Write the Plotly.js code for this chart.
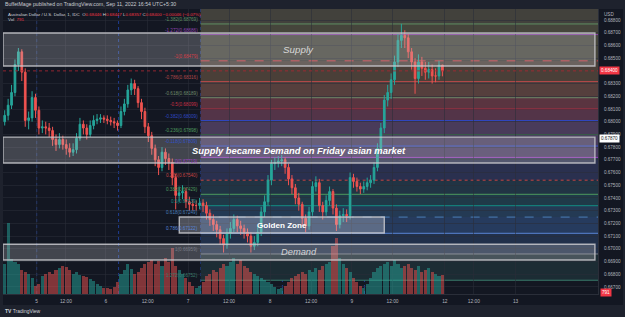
<!DOCTYPE html>
<html><head><meta charset="utf-8">
<script src="https://cdn.plot.ly/plotly-3.0.1.min.js"></script>
<style>html,body{margin:0;padding:0;background:#1e222d;overflow:hidden}#chart{width:625px;height:317px}</style>
</head><body><div id="chart"></div>
<script>
// ---------- DATA (hourly AUD/USD bars) ----------
const opens = [0.6800,0.6805,0.6813,0.6823,0.6845,0.6855,0.6839,0.6801,0.6803,0.6819,
0.6809,0.6795,0.6796,0.6795,0.6793,0.6786,0.6782,0.6786,0.6782,0.6779,
0.6776,0.6778,0.6787,0.6798,0.6795,0.6790,0.6797,0.6801,0.6802,0.6803,
0.6802,0.6801,0.6800,0.6799,0.6797,0.6808,0.6814,0.6825,0.6830,0.6826,
0.6815,0.6808,0.6796,0.6789,0.6779,0.6770,0.6764,0.6776,0.6771,0.6768,
0.6756,0.6742,0.6744,0.6745,0.6737,0.6735,0.6734,0.6734,0.6736,0.6734,
0.6728,0.6723,0.6719,0.6715,0.6708,0.6703,0.6712,0.6716,0.6723,0.6718,
0.6716,0.6713,0.6710,0.6702,0.6705,0.6713,0.6729,0.6737,0.6754,0.6767,
0.6768,0.6769,0.6770,0.6764,0.6755,0.6748,0.6740,0.6735,0.6724,0.6718,
0.6729,0.6749,0.6752,0.6734,0.6729,0.6738,0.6745,0.6732,0.6719,0.6726,
0.6727,0.6726,0.6756,0.6753,0.6749,0.6747,0.6749,0.6752,0.6754,0.6764,
0.6779,0.6795,0.6817,0.6823,0.6833,0.6847,0.6864,0.6868,0.6866,0.6855,
0.6847,0.6834,0.6847,0.6842,0.6839,0.6841,0.6836,0.6836,0.68446];
const highs = [0.6809,0.6818,0.6829,0.6849,0.6858,0.6857,0.6842,0.6808,0.6824,0.6822,
0.6812,0.6801,0.6800,0.6799,0.6796,0.6790,0.6791,0.6789,0.6786,0.6783,
0.6783,0.6791,0.6803,0.6801,0.6798,0.6801,0.6805,0.6806,0.6806,0.6805,
0.6805,0.6804,0.6803,0.6801,0.6812,0.6818,0.6829,0.6834,0.6833,0.6828,
0.6818,0.6811,0.6799,0.6792,0.6782,0.6773,0.6780,0.6779,0.6775,0.6771,
0.6759,0.6749,0.6750,0.6748,0.6741,0.6739,0.6738,0.6740,0.6739,0.6737,
0.6731,0.6727,0.6722,0.6718,0.6711,0.6716,0.6721,0.6727,0.6726,0.6722,
0.6719,0.6716,0.6713,0.6710,0.6718,0.6733,0.6742,0.6758,0.6770,0.6772,
0.6773,0.6774,0.6772,0.6767,0.6758,0.6751,0.6744,0.6737,0.6727,0.6733,
0.6753,0.6757,0.6755,0.6737,0.6742,0.6749,0.6747,0.6735,0.6730,0.6732,
0.6731,0.6760,0.6759,0.6756,0.6752,0.6753,0.6756,0.6758,0.6768,0.6783,
0.6799,0.6821,0.6829,0.6838,0.6852,0.6869,0.6877,0.6872,0.6869,0.6858,
0.6850,0.6853,0.6851,0.6847,0.6847,0.6845,0.6842,0.6848,0.68447];
const lows = [0.6797,0.6801,0.6810,0.6820,0.6840,0.6832,0.6796,0.6794,0.6800,0.6803,
0.6790,0.6791,0.6790,0.6788,0.6781,0.6777,0.6779,0.6778,0.6774,0.6772,
0.6773,0.6775,0.6785,0.6790,0.6786,0.6788,0.6794,0.6798,0.6799,0.6799,
0.6798,0.6797,0.6795,0.6793,0.6795,0.6805,0.6811,0.6821,0.6821,0.6811,
0.6802,0.6791,0.6784,0.6774,0.6765,0.6758,0.6761,0.6766,0.6762,0.6750,
0.6731,0.6737,0.6739,0.6732,0.6730,0.6730,0.6730,0.6731,0.6729,0.6723,
0.6718,0.6714,0.6709,0.6703,0.6697,0.6700,0.6708,0.6713,0.6713,0.6711,
0.6708,0.6705,0.6697,0.6699,0.6702,0.6710,0.6725,0.6734,0.6750,0.6762,
0.6764,0.6765,0.6759,0.6750,0.6743,0.6735,0.6730,0.6718,0.6713,0.6715,
0.6726,0.6745,0.6729,0.6723,0.6726,0.6734,0.6727,0.6714,0.6716,0.6721,
0.6721,0.6723,0.6748,0.6745,0.6743,0.6744,0.6746,0.6748,0.6751,0.6761,
0.6775,0.6791,0.6812,0.6818,0.6829,0.6843,0.6858,0.6858,0.6850,0.6841,
0.6822,0.6830,0.6836,0.6833,0.6834,0.6830,0.6831,0.6833,0.68357];
const closes = [0.6805,0.6813,0.6823,0.6845,0.6855,0.6839,0.6801,0.6803,0.6819,0.6809,
0.6795,0.6796,0.6795,0.6793,0.6786,0.6782,0.6786,0.6782,0.6779,0.6776,
0.6778,0.6787,0.6798,0.6795,0.6790,0.6797,0.6801,0.6802,0.6803,0.6802,
0.6801,0.6800,0.6799,0.6797,0.6808,0.6814,0.6825,0.6830,0.6826,0.6815,
0.6808,0.6796,0.6789,0.6779,0.6770,0.6764,0.6776,0.6771,0.6768,0.6756,
0.6742,0.6744,0.6745,0.6737,0.6735,0.6734,0.6734,0.6736,0.6734,0.6728,
0.6723,0.6719,0.6715,0.6708,0.6703,0.6712,0.6716,0.6723,0.6718,0.6716,
0.6713,0.6710,0.6702,0.6705,0.6713,0.6729,0.6737,0.6754,0.6767,0.6768,
0.6769,0.6770,0.6764,0.6755,0.6748,0.6740,0.6735,0.6724,0.6718,0.6729,
0.6749,0.6752,0.6734,0.6729,0.6738,0.6745,0.6732,0.6719,0.6726,0.6727,
0.6726,0.6756,0.6753,0.6749,0.6747,0.6749,0.6752,0.6754,0.6764,0.6779,
0.6795,0.6817,0.6823,0.6833,0.6847,0.6864,0.6868,0.6866,0.6855,0.6847,
0.6834,0.6847,0.6842,0.6839,0.6841,0.6836,0.6836,0.68446,0.68400];
const volumes = [1260,2980,1470,1340,1260,1010,920,840,670,340,
420,760,840,920,840,1010,1090,1180,1130,1010,
840,920,800,760,710,630,550,420,340,250,
250,210,290,500,840,1010,1260,1050,840,920,
1090,1260,1340,1430,1260,1390,1180,1510,1340,1930,
1180,1010,840,670,500,340,250,340,500,760,
840,1010,920,1090,1260,1180,1340,1510,1260,1430,
1180,1090,920,840,760,670,590,500,420,290,
210,250,340,500,670,760,840,920,840,1010,
920,1090,1010,1180,1260,1340,2020,2350,1510,1260,
1090,920,670,500,340,250,420,670,920,1090,
1180,1260,1340,1180,1430,1260,1090,1180,1260,1090,
1010,1180,920,1010,1090,920,840,760,791];
const bars = closes.map((_, i) => i);

const tickPos  = [9.35, 17.9, 29.6, 41.8, 53.6, 65.6, 77.6, 89.6, 101.5, 113.4, 128.7, 137.2, 149.4];
const tickText = ['5', '12:00', '6', '12:00', '7', '12:00', '8', '12:00', '9', '12:00', '12', '12:00', '13'];
const priceTicks = [0.667,0.668,0.669,0.670,0.671,0.672,0.673,0.674,0.675,0.676,0.677,0.678,0.679,0.680,0.681,0.682,0.683,0.685,0.686,0.687,0.688];
const sessionBreaks = [9.35, 33.3, 57.3, 81.2, 105.2];

// Fibonacci tool: level 0 and level 1 prices, ratios shown
const fibLevel0 = 0.67719, fibLevel1 = 0.66959, fibStartBar = 57.3;
const fibRatios = [-1.618,-1.382,-1.272,-1,-0.786,-0.618,-0.5,-0.382,-0.236,-0.118,0,0.236,0.382,0.5,0.618,0.786,1,1.272];

// Drawn zones
const zoneNames  = ['Supply', 'Supply became Demand on Friday asian market', 'Golden Zone', 'Demand'];
const zoneTop    = [0.68698, 0.67879, 0.67250, 0.67035];
const zoneBottom = [0.68438, 0.67675, 0.67124, 0.66911];
const zoneFrom   = [-0.5, -0.5, 51.05, -0.5];
const zoneTo     = [172.6, 172.6, 111.0, 172.6];

const lastPrice = 0.68400;
const markedPrice = 0.67870;

// ---------- STYLE ----------
const W = 625, H = 317, ML = 3, MR = 27, MT = 9, MB = 23;
const PW = W - ML - MR, PH = H - MT - MB;
const pX = x => (x - ML) / PW;
const pY = y => (H - MB - y) / PH;
const UP = '#26a69a', DOWN = '#ef5350';
const AXT = '#b2b5be';
const zoneFill = ['#42413c','#45453b','#46463c','#4a3f38','#553f3d','#5a3440','#533448','#493b5a','#473b5e','#4a3a62','#2a304f','#213444','#1f3a48','#243a54','#263b5e','#21304a','#1c2c34'];
const fibLine = ['#787b86','#5f8f62','#8e44ad','#d5404a','#b04848','#6f8a6a','#c62f45','#3048c0','#4e9a5e','#3352c8','#9c3fc0','#c54545','#4e9a5e','#138f86','#4a7fb8','#5a86d8','#787b86','#3a7a6a'];
const fibDash = ['solid','solid','solid','dash','solid','solid','solid','solid','solid','solid','solid','dot','solid','solid','dash','solid','solid','solid'];
const zoneFont = [
  {size: 9.8, color: '#d8d8d8', style: 'italic', weight: 'normal'},
  {size: 9.4, color: '#ffffff', style: 'italic', weight: 'bold'},
  {size: 8.1, color: '#ffffff', style: 'normal', weight: 'bold'},
  {size: 9.3, color: '#d4d4d4', style: 'italic', weight: 'normal'}
];
const ZFONT = 'Liberation Sans, Arial, sans-serif';

const xMax = 173.5;
const fibPrice = r => fibLevel0 - r * (fibLevel0 - fibLevel1);

const shapes = [];
const annotations = [];

// chart pane background (incl. axes)
shapes.push({type: 'rect', xref: 'paper', yref: 'paper', x0: pX(3), x1: pX(623), y0: pY(305), y1: pY(9),
  fillcolor: '#131722', line: {width: 0}, layer: 'below'});

// fib zones
for (let i = 0; i < fibRatios.length - 1; i++) {
  shapes.push({type: 'rect', xref: 'x', yref: 'y', x0: fibStartBar, x1: xMax,
    y0: fibPrice(fibRatios[i]), y1: fibPrice(fibRatios[i + 1]),
    fillcolor: zoneFill[i], line: {width: 0}, layer: 'below'});
}
fibRatios.forEach((r, i) => {
  const p = fibPrice(r);
  shapes.push({type: 'line', xref: 'x', yref: 'y', x0: fibStartBar, x1: xMax, y0: p, y1: p,
    line: {color: fibLine[i], width: 1, dash: fibDash[i]}, layer: 'below'});
  annotations.push({xref: 'x', yref: 'y', x: fibStartBar, y: p, xanchor: 'right', yanchor: r === 0 ? 'top' : 'bottom', xshift: -1,
    text: r + '(' + p.toFixed(5) + ')', showarrow: false, font: {size: 4.6, color: fibLine[i]}});
});

// session breaks
sessionBreaks.forEach(b => shapes.push({type: 'line', xref: 'x', yref: 'paper', x0: b, x1: b, y0: 0, y1: 1,
  line: {color: 'rgba(41,98,255,0.5)', width: 1, dash: 'dot'}, layer: 'below'}));

// last price line
shapes.push({type: 'line', xref: 'paper', yref: 'y', x0: 0, x1: 1, y0: lastPrice, y1: lastPrice,
  line: {color: 'rgba(170,40,50,0.85)', width: 1, dash: 'dot'}, layer: 'above'});

// zones (boxes)
zoneNames.forEach((n, i) => {
  shapes.push({type: 'rect', xref: 'x', yref: 'y', x0: zoneFrom[i], x1: zoneTo[i], y0: zoneBottom[i], y1: zoneTop[i],
    fillcolor: i === 2 ? 'rgba(215,215,225,0.30)' : 'rgba(200,200,205,0.26)',
    line: {color: 'rgba(200,200,205,0.85)', width: 1.4}, layer: 'above'});
  annotations.push({xref: 'x', yref: 'y', x: (zoneFrom[i] + zoneTo[i]) / 2, y: (zoneTop[i] + zoneBottom[i]) / 2,
    text: n, showarrow: false, xanchor: 'center', yanchor: 'middle',
    font: Object.assign({family: ZFONT}, zoneFont[i])});
});

// price-axis labels
annotations.push({xref: 'paper', yref: 'y', x: 1, y: lastPrice, xanchor: 'left', yanchor: 'middle', xshift: 1,
  text: lastPrice.toFixed(5), showarrow: false, bgcolor: '#f23645', borderpad: 1, font: {size: 4.6, color: '#ffffff'}});
annotations.push({xref: 'paper', yref: 'y', x: 1, y: markedPrice, xanchor: 'left', yanchor: 'middle', xshift: 1,
  text: markedPrice.toFixed(5), showarrow: false, bgcolor: '#ffffff', borderpad: 1, font: {size: 4.6, color: '#131722'}});
annotations.push({xref: 'paper', yref: 'paper', x: 1, y: pY(292.5), xanchor: 'left', yanchor: 'middle', xshift: 2,
  text: String(volumes[volumes.length - 1]), showarrow: false, bgcolor: '#f23645', borderpad: 1, font: {size: 4.6, color: '#ffffff'}});
annotations.push({xref: 'paper', yref: 'paper', x: 1, y: pY(14), xanchor: 'left', yanchor: 'middle', xshift: 4,
  text: 'USD', showarrow: false, font: {size: 4.6, color: AXT}});

// header / legend
const red = s => '<span style="color:#f23645">' + s + '</span>';
annotations.push({xref: 'paper', yref: 'paper', x: pX(3), y: pY(4.5), xanchor: 'left', yanchor: 'middle',
  text: 'BuffetMage published on TradingView.com, Sep 11, 2022 16:54 UTC+5:30', showarrow: false,
  font: {size: 5.2, color: '#c8cad0'}});
annotations.push({xref: 'paper', yref: 'paper', x: pX(6), y: pY(14.5), xanchor: 'left', yanchor: 'middle', showarrow: false,
  text: 'Australian Dollar / U.S. Dollar, 1, IDC\u00a0\u00a0O' + red('0.68446') + '\u00a0H' + red('0.68447') + '\u00a0L' + red('0.68357') +
        '\u00a0C' + red('0.68400') + '\u00a0' + red('\u22120.00046 (\u22120.07%)'),
  font: {size: 4.4, color: '#d1d4dc'}});
annotations.push({xref: 'paper', yref: 'paper', x: pX(6), y: pY(19.5), xanchor: 'left', yanchor: 'middle', showarrow: false,
  text: 'Vol\u00a0\u00a0' + red('791'), font: {size: 4.4, color: '#d1d4dc'}});
annotations.push({xref: 'paper', yref: 'paper', x: pX(3), y: pY(311), xanchor: 'left', yanchor: 'middle', showarrow: false,
  text: '<b>TV</b> TradingView', font: {size: 5, color: '#d1d4dc'}});

const volColors = closes.map((c, i) => c >= opens[i] ? 'rgba(38,166,154,0.5)' : 'rgba(239,83,80,0.5)');

const traces = [
  {type: 'bar', x: bars, y: volumes, yaxis: 'y2', marker: {color: volColors, line: {width: 0}}, hoverinfo: 'skip', width: 0.9},
  {type: 'candlestick', x: bars, open: opens, high: highs, low: lows, close: closes,
   increasing: {line: {color: UP, width: 1}, fillcolor: UP},
   decreasing: {line: {color: DOWN, width: 1}, fillcolor: DOWN},
   whiskerwidth: 0, hoverinfo: 'skip'}
];

const layout = {
  width: W, height: H, margin: {l: ML, r: MR, t: MT, b: MB},
  paper_bgcolor: '#1e222d', plot_bgcolor: '#131722', showlegend: false, dragmode: false,
  font: {family: 'Liberation Sans, Arial, sans-serif', color: AXT},
  bargap: 0,
  xaxis: {range: [-0.5, xMax], rangeslider: {visible: false}, tickmode: 'array', tickvals: tickPos, ticktext: tickText,
    tickfont: {size: 4.8, color: AXT}, ticks: 'outside', ticklen: 2, tickcolor: 'rgba(0,0,0,0)',
    showgrid: true, gridcolor: 'rgba(42,46,57,0.55)', gridwidth: 1, zeroline: false,
    showline: true, linecolor: '#2a2e39', linewidth: 1, fixedrange: true},
  yaxis: {range: [0.66644, 0.68887], side: 'right', tickmode: 'array', tickvals: priceTicks,
    ticktext: priceTicks.map(v => v.toFixed(5)),
    tickfont: {size: 4.6, color: AXT}, ticks: 'outside', ticklen: 4, tickcolor: 'rgba(0,0,0,0)',
    showgrid: true, gridcolor: 'rgba(42,46,57,0.55)', zeroline: false,
    showline: true, linecolor: '#2a2e39', linewidth: 1, fixedrange: true},
  yaxis2: {overlaying: 'y', range: [0, 11970], visible: false, fixedrange: true},
  shapes: shapes, annotations: annotations
};

Plotly.newPlot('chart', traces, layout, {displayModeBar: false, staticPlot: true});
</script>
</body></html>
